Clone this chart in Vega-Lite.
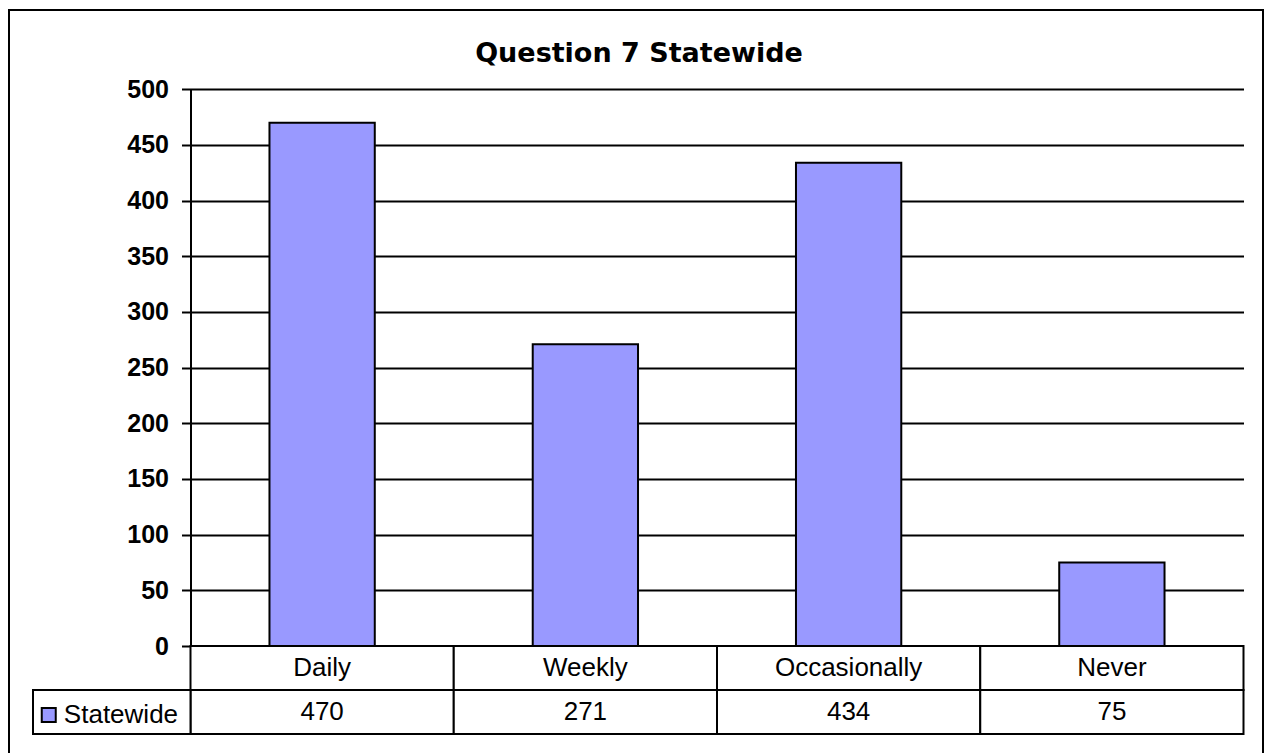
{
  "$schema": "https://vega.github.io/schema/vega-lite/v6.json",
  "width": 1254,
  "height": 747,
  "autosize": {"type": "none"},
  "padding": {"left": 9, "top": 10, "right": 1, "bottom": -4},
  "background": "white",
  "config": {
    "view": {"stroke": "black", "strokeWidth": 2},
    "font": "Liberation Sans"
  },
  "title": {
    "text": "Question 7 Statewide",
    "frame": "group",
    "anchor": "middle",
    "offset": -79,
    "baseline": "alphabetic",
    "font": "DejaVu Sans",
    "fontSize": 27,
    "fontWeight": "bold",
    "color": "black",
    "dx": 3
  },
  "data": {
    "values": [
      {"cat": "Daily", "v": 470},
      {"cat": "Weekly", "v": 271},
      {"cat": "Occasionally", "v": 434},
      {"cat": "Never", "v": 75}
    ]
  },
  "layer": [
    {
      "mark": {"type": "bar", "fill": "#9999FF", "stroke": "black", "strokeWidth": 2},
      "encoding": {
        "x": {
          "field": "cat", "type": "nominal", "sort": null,
          "scale": {"type": "band", "paddingInner": 0.6, "paddingOuter": 0.3, "range": [181.5, 1234.5]},
          "axis": null
        },
        "y": {
          "field": "v", "type": "quantitative",
          "scale": {"domain": [0, 500], "nice": false, "range": [636, 79.3]},
          "axis": {
            "orient": "left",
            "offset": -181.5,
            "values": [0, 50, 100, 150, 200, 250, 300, 350, 400, 450, 500],
            "title": null,
            "grid": true,
            "gridColor": "black",
            "gridWidth": 2,
            "gridOpacity": 1,
            "domain": true,
            "domainColor": "black",
            "domainWidth": 2,
            "ticks": true,
            "tickColor": "black",
            "tickWidth": 2,
            "tickSize": 9,
            "labelPadding": 13,
            "labelFont": "Liberation Sans",
            "labelFontSize": 25,
            "labelFontWeight": "bold",
            "labelColor": "black"
          }
        }
      }
    },
    {
      "encoding": {
        "x": {
          "field": "cat", "type": "nominal", "sort": null,
          "scale": {"type": "band", "paddingInner": 0, "paddingOuter": 0, "range": [181.5, 1234.5]},
          "axis": null
        }
      },
      "layer": [
        {
          "mark": {"type": "rect", "fill": "white", "stroke": "black", "strokeWidth": 2},
          "encoding": {
            "y": {"datum": "cat", "type": "nominal", "scale": {"type": "band", "domain": ["cat", "val"], "range": [636, 724], "paddingInner": 0, "paddingOuter": 0}, "axis": null}
          }
        },
        {
          "mark": {"type": "rect", "fill": "white", "stroke": "black", "strokeWidth": 2},
          "encoding": {
            "y": {"datum": "val", "type": "nominal"}
          }
        },
        {
          "mark": {"type": "text", "font": "Liberation Sans", "fontSize": 26, "color": "black", "baseline": "middle", "align": "center"},
          "encoding": {
            "y": {"datum": "cat", "type": "nominal", "bandPosition": 0.5},
            "text": {"field": "cat"}
          }
        },
        {
          "mark": {"type": "text", "font": "Liberation Sans", "fontSize": 26, "color": "black", "baseline": "middle", "align": "center"},
          "encoding": {
            "y": {"datum": "val", "type": "nominal", "bandPosition": 0.5},
            "text": {"field": "v", "type": "quantitative"}
          }
        }
      ]
    },
    {
      "data": {"values": [{"series": "Statewide"}]},
      "encoding": {
        "x": {
          "field": "series", "type": "nominal",
          "scale": {"type": "band", "paddingInner": 0, "paddingOuter": 0, "range": [24, 181.5]},
          "axis": null
        },
        "y": {"datum": "val", "type": "nominal", "scale": {"type": "band", "domain": ["cat", "val"], "range": [636, 724], "paddingInner": 0, "paddingOuter": 0}, "axis": null}
      },
      "layer": [
        {
          "mark": {"type": "rect", "fill": "white", "stroke": "black", "strokeWidth": 2}
        },
        {
          "mark": {"type": "square", "fill": "#9999FF", "stroke": "black", "strokeWidth": 2, "opacity": 1, "size": 196},
          "encoding": {
            "x": {"field": "series", "type": "nominal", "bandPosition": 0.1},
            "y": {"datum": "val", "type": "nominal", "bandPosition": 0.57}
          }
        },
        {
          "mark": {"type": "text", "font": "Liberation Sans", "fontSize": 26, "color": "black", "baseline": "middle", "align": "left", "dy": 3},
          "encoding": {
            "x": {"field": "series", "type": "nominal", "bandPosition": 0.196},
            "y": {"datum": "val", "type": "nominal", "bandPosition": 0.5},
            "text": {"field": "series"}
          }
        }
      ]
    }
  ],
  "resolve": {"scale": {"x": "independent", "y": "independent"}}
}
